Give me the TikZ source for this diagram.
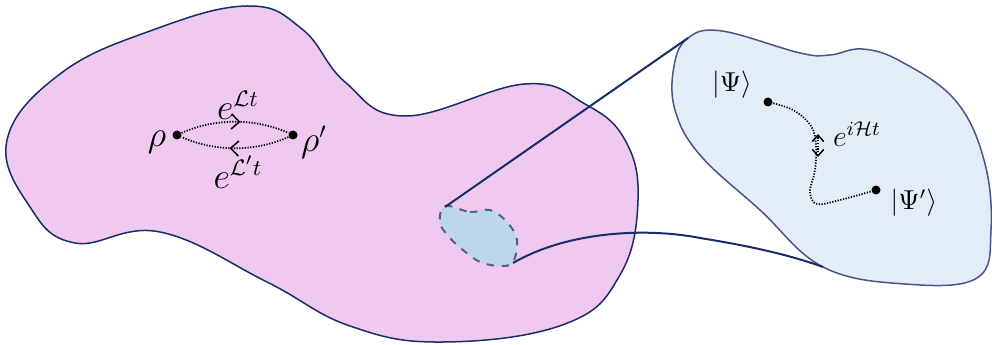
\documentclass[tikz,border=0pt]{standalone}
\usetikzlibrary{decorations.markings,arrows.meta}
\definecolor{pinkfill}{RGB}{239,201,239}
\definecolor{navy}{RGB}{25,45,105}
\definecolor{bluefill}{RGB}{227,237,247}
\definecolor{blueedge}{RGB}{75,85,135}
\definecolor{smallfill}{RGB}{189,214,236}
\definecolor{smalledge}{RGB}{85,95,135}
\begin{document}
\begin{tikzpicture}[x=0.4pt,y=-0.4pt,
  >={Straight Barb[length=3.2pt,width=6pt,line width=0.6pt]},
  dotnode/.style={circle,fill=black,inner sep=0pt,minimum size=3.6pt},
  lbl/.style={inner sep=0pt},
  blobedge/.style={line width=0.6pt},
  conn/.style={navy,line width=0.8pt},
  flow/.style={dash pattern=on 0.5pt off 0.6pt,line width=0.7pt},
  midarrow/.style={postaction={decorate},decoration={markings,mark=at position #1 with {\arrow[solid]{>}}}}]
\useasboundingbox (0,0) rectangle (992,345);
% big pink region
\draw[blobedge,navy,fill=pinkfill] plot[smooth cycle,tension=0.7] coordinates {
 (7,140) (30,207) (75,243) (160,232) (267,282) (350,326)
 (443,342) (565,324) (620,275) (638,200) (625,140) (585,104) (525,84)
 (405,116) (345,82) (302,29) (247,6) (150,31)
 (60,74)};
% blue zoomed region
\draw[blobedge,blueedge,fill=bluefill] plot[smooth cycle,tension=0.65] coordinates {
 (688,38) (722,31) (800,53) (830,55) (862,49) (900,61) (955,100) (984,160)
 (991,230) (977,278) (905,284) (823,267)
 (760,210) (700,155) (675,110) (674,66)};
% small dashed region
\draw[blobedge,smalledge,dashed,line width=0.8pt,fill=smallfill] plot[smooth cycle,tension=0.6] coordinates {
 (445,206) (470,212) (490,210) (507,222) (517,240) (513,262) (500,266)
 (480,262) (463,250) (450,238) (440,223)};
\coordinate (sA) at (445,207);
\coordinate (sB) at (513,263);
\coordinate (bA) at (688,38);
\coordinate (bB) at (823,267);
\draw[conn] (sA) -- (bA);
\draw[conn] (sB) .. controls (570,230) and (650,228) .. (700,238) .. controls (750,246) and (790,255) .. (bB);
% left states
\node[dotnode] (r) at (177,135) {};
\node[dotnode] (rp) at (293,135) {};
\node[lbl] (lr) at (157,142) {\fontsize{13.5}{16}\selectfont$\rho$};
\node[lbl] (lrp) at (314,142) {\fontsize{13.5}{16}\selectfont$\rho'$};
\draw[flow,midarrow=0.55] (r) .. controls (215,118) and (255,118) .. (rp);
\draw[flow,midarrow=0.55] (rp) .. controls (255,152) and (215,152) .. (r);
\node[lbl] (lup) at (238,105) {\fontsize{13.5}{16}\selectfont$e^{\mathcal{L}t}$};
\node[lbl] (ldn) at (238,172) {\fontsize{13.5}{16}\selectfont$e^{\mathcal{L}'t}$};
% right states
\node[dotnode] (p) at (768,102) {};
\node[dotnode] (pp) at (876,190) {};
\node[lbl] (lp) at (732,85) {\fontsize{10.5}{12}\selectfont$|\Psi\rangle$};
\node[lbl] (lpp) at (914,203) {\fontsize{10.5}{12}\selectfont$|\Psi'\rangle$};
\draw[flow] plot[smooth,tension=0.6] coordinates {(p) (793,110) (811,126) (816,145) (815,170) (810,192) (817,204) (840,200) (pp)};
\coordinate (hA) at (818,134);
\coordinate (hB) at (818,157);
\draw[flow,{Straight Barb[length=2.6pt,width=4.6pt,line width=0.6pt]}-{Straight Barb[length=2.6pt,width=4.6pt,line width=0.6pt]}] (hB) -- (hA);
\node[lbl] (lh) at (857,134) {\large$e^{i\mathcal{H}t}$};
\end{tikzpicture}
\end{document}
